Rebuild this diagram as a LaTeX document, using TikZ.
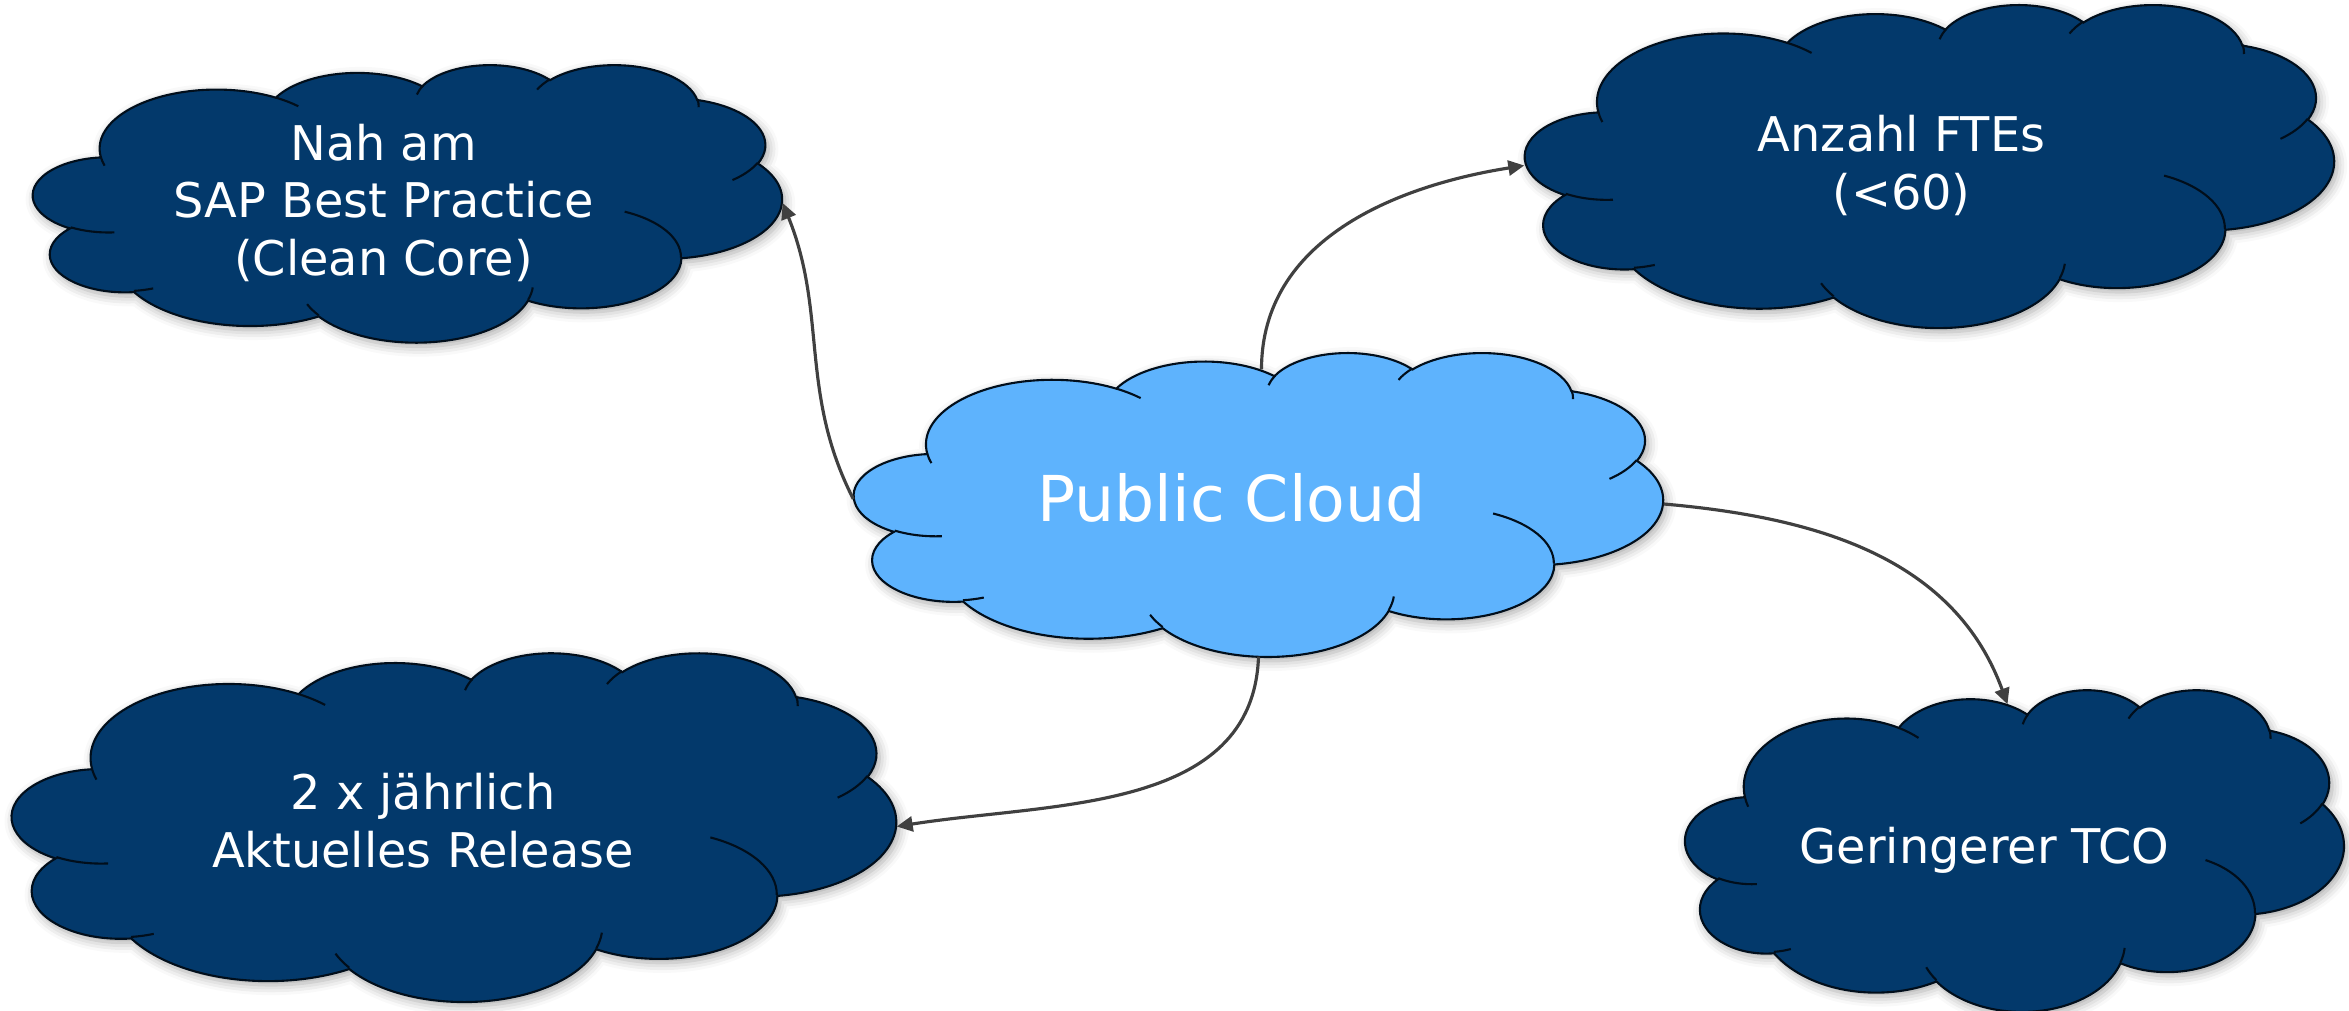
\documentclass[tikz,border=0pt]{standalone}
\usepackage{fontspec}
\setmainfont{DejaVu Sans}
\usetikzlibrary{arrows.meta, shadows.blur}

\definecolor{navy}{HTML}{03396B}
\definecolor{skyblue}{HTML}{5EB3FD}
\definecolor{linegray}{HTML}{404040}

\pgfdeclarelayer{background}
\pgfsetlayers{background,main}

\tikzset{
	cloudfill/.style={fill=#1, draw=black!75!navy, line width=0.6pt,
		blur shadow={shadow xshift=0.03cm, shadow yshift=-0.04cm, shadow blur radius=0.1cm, shadow opacity=35}},
	cloudline/.style={draw=black!75!navy, line width=0.6pt},
	cloudbox/.style={rectangle, inner sep=0pt},
	cloudtext/.style={text=white, align=center},
	link/.style={->, draw=linegray, line width=0.9pt},
}

% office-style cloud behind a named box (box name, width, height, fill)
\newcommand{\pptcloud}[4]{%
	\pgfmathsetmacro{\cloudw}{#2/432}%
	\pgfmathsetmacro{\cloudh}{#3/432}%
	\begin{pgfonlayer}{background}
	\begin{scope}[shift={(#1.center)}, x=\cloudw cm, y=-\cloudh cm, shift={(-216,-216)}]
		\path[cloudfill=#4] (39.00,143.70)
			arc[start angle=-187.742, delta angle=128.107, x radius=67.53, y radius=91.90]
			arc[start angle=-151.996, delta angle=106.473, x radius=53.33, y radius=72.67]
			arc[start angle=-153.474, delta angle=116.137, x radius=43.65, y radius=59.45]
			arc[start angle=-139.790, delta angle=129.604, x radius=48.57, y radius=65.95]
			arc[start angle=-74.788, delta angle=98.036, x radius=53.33, y radius=72.73]
			arc[start angle=-37.520, delta angle=119.373, x radius=67.75, y radius=92.20]
			arc[start angle=0.459, delta angle=121.535, x radius=57.85, y radius=78.67]
			arc[start angle=16.887, delta angle=129.290, x radius=67.52, y radius=92.15]
			arc[start angle=59.109, delta angle=90.974, x radius=77.20, y radius=105.43]
			arc[start angle=-276.718, delta angle=139.736, x radius=43.60, y radius=59.18]
			arc[start angle=-239.748, delta angle=143.888, x radius=43.45, y radius=59.45]
			-- cycle;
		\draw[cloudline]
			(46.93,261.77) arc[start angle=85.567, delta angle=34.685, x radius=43.45, y radius=59.45]
			(69.28,348.99) arc[start angle=68.184, delta angle=15.098, x radius=43.60, y radius=59.18]
			(164.78,390.90) arc[start angle=146.177, delta angle=12.252, x radius=67.52, y radius=92.15]
			(288.27,347.51) arc[start angle=4.750, delta angle=12.137, x radius=67.52, y radius=92.15]
			(341.29,229.54) arc[start angle=-63.982, delta angle=64.441, x radius=57.85, y radius=78.67]
			(417.98,153.54) arc[start angle=23.248, delta angle=26.458, x radius=53.33, y radius=72.73]
			(383.24,54.26) arc[start angle=-10.186, delta angle=11.005, x radius=48.57, y radius=65.95]
			(290.78,39.52) arc[start angle=-156.334, delta angle=16.544, x radius=48.57, y radius=65.95]
			(221.41,47.20) arc[start angle=-167.720, delta angle=14.246, x radius=43.65, y radius=59.45]
			(140.00,51.92) arc[start angle=-59.635, delta angle=13.931, x radius=67.53, y radius=91.90]
			(41.27,157.89) arc[start angle=163.197, delta angle=9.061, x radius=67.53, y radius=91.90];
	\end{scope}
	\end{pgfonlayer}
}

\begin{document}
\begin{tikzpicture}[>={Triangle[length=0.16cm, width=0.15cm]}, font=\fontsize{13.6}{16.4}\selectfont]

\useasboundingbox (0,0) rectangle (23.49,-10.11);

\node[cloudbox, minimum width=8.09cm, minimum height=3.04cm,
	label={[cloudtext, font=\fontsize{18}{21.6}\selectfont, xshift=-0.27cm, yshift=0.065cm]center:Public Cloud}] (public) at (12.585,-5.04) {};

\node[cloudbox, minimum width=7.49cm, minimum height=2.78cm,
	label={[cloudtext, xshift=-0.24cm]center:{Nah am\\SAP Best Practice\\(Clean Core)}}] (practice) at (4.075,-2.03) {};
\node[cloudbox, minimum width=8.09cm, minimum height=3.23cm,
	label={[cloudtext, xshift=-0.28cm]center:{Anzahl FTEs\\(<60)}}] (ftes) at (19.295,-1.655) {};
\node[cloudbox, minimum width=8.84cm, minimum height=3.49cm,
	label={[cloudtext, xshift=-0.31cm, yshift=0.06cm]center:{2 x jährlich\\Aktuelles Release}}] (release) at (4.54,-8.265) {};
\node[cloudbox, minimum width=6.59cm, minimum height=3.22cm,
	label={[cloudtext, xshift=-0.30cm]center:Geringerer TCO}] (tco) at (20.145,-8.50) {};

\pptcloud{public}{8.09}{3.04}{skyblue}
\pptcloud{practice}{7.49}{2.78}{navy}
\pptcloud{ftes}{8.09}{3.23}{navy}
\pptcloud{release}{8.84}{3.49}{navy}
\pptcloud{tco}{6.59}{3.22}{navy}

\draw[link] ([yshift=0.05cm]public.west) to[out=117, in=-68] (practice.east);
\draw[link] ([xshift=0.03cm, yshift=-0.18cm]public.north) to[out=90, in=189] (ftes.west);
\draw[link] (public.east) to[out=-5, in=110] ([xshift=-0.07cm, yshift=-0.16cm]tco.north);
\draw[link] (public.south) to[out=-92, in=9] (release.east);

\end{tikzpicture}
\end{document}
